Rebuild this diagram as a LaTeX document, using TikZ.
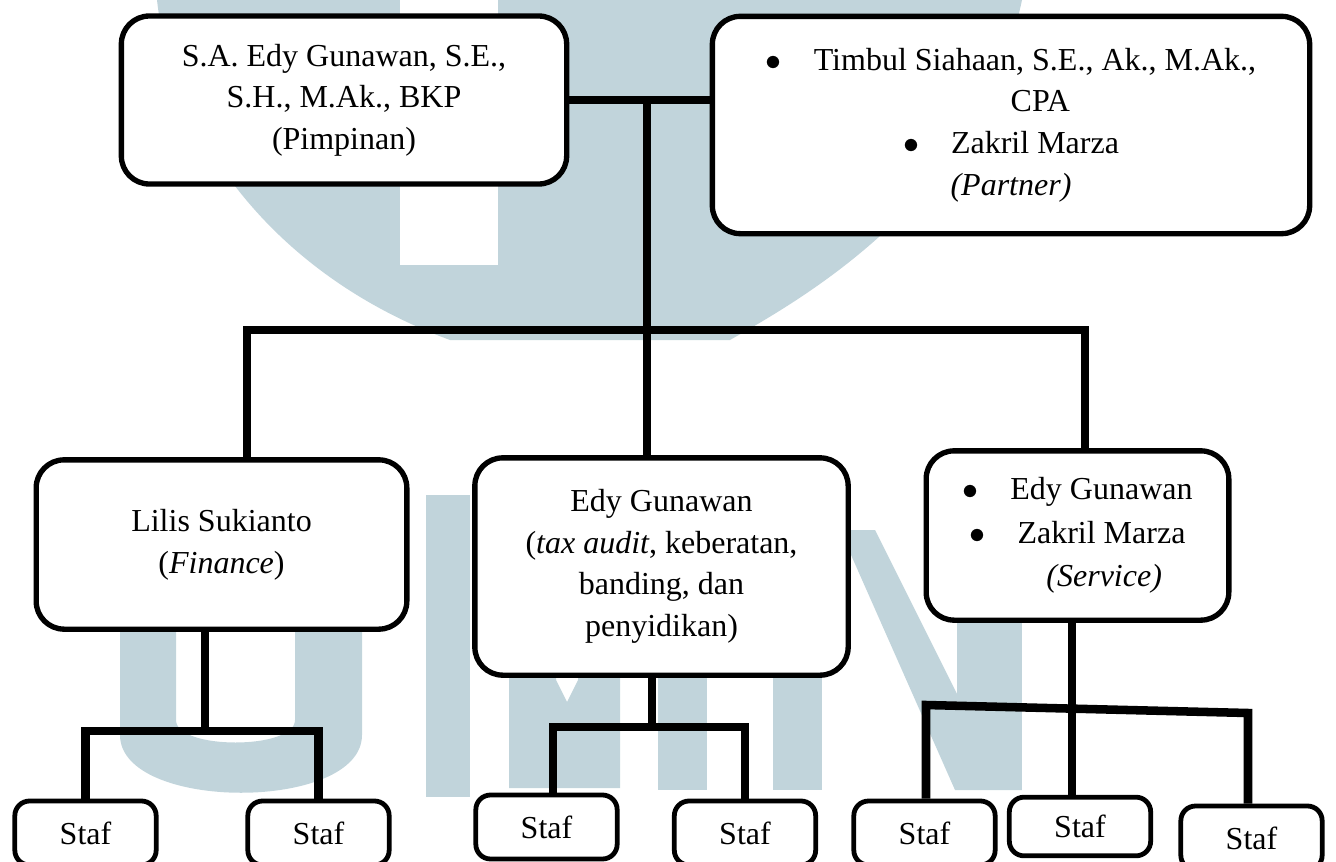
\documentclass[tikz,border=0pt]{standalone}
\usepackage{fontspec}
\setmainfont{Liberation Serif}
\usetikzlibrary{positioning}
\definecolor{wmark}{RGB}{193,212,219}

\begin{document}
\begin{tikzpicture}[x=0.375pt, y=-0.375pt,
    every node/.style={font=\fontsize{12}{15.6}\selectfont},
    unit/.style={draw=black, fill=white, line width=2pt, rounded corners=10.5pt,
                 align=center, inner sep=0pt},
    staf/.style={draw=black, fill=white, line width=1.8pt, rounded corners=5.5pt,
                 inner sep=0pt, minimum width=53pt, minimum height=24pt},
    link/.style={line width=3.2pt}]

\useasboundingbox (0,0) rectangle (1336,861);

% watermark
\fill[wmark] (157,0) .. controls (170,120) and (260,270) .. (450,340) -- (730,340)
    .. controls (800,300) and (980,200) .. (1022,0) -- cycle;
\fill[white] (400,0) rectangle (498,265);
\fill[wmark] (120,600) -- (120,735) .. controls (120,812) and (362,812) .. (362,735)
    -- (362,600) -- (295,600) -- (295,720) .. controls (295,750) and (176,750) .. (176,720)
    -- (176,600) -- cycle;
\fill[wmark] (426,495) rectangle (470,797);
\fill[wmark] (509,600) -- (509,788) -- (620,788) -- (620,600) -- (578,600) -- (578,680)
    -- (567,702) -- (556,680) -- (556,600) -- cycle;
\fill[wmark] (658,600) rectangle (707,790);
\fill[wmark] (773,600) rectangle (822,790);
\fill[wmark] (840,530) -- (875,530) -- (990,760) -- (1022,790) -- (955,790) -- cycle;
\fill[wmark] (957,560) rectangle (1022,790);

\node[unit, minimum width=167pt, minimum height=63pt] (lead) at (344,100)
    {S.A. Edy Gunawan, S.E.,\\ S.H., M.Ak., BKP\\ (Pimpinan)};
\node[unit, minimum width=224pt, minimum height=81.5pt] (partner) at (1011,125)
    {$\bullet$\hspace{1em}Timbul Siahaan, S.E., Ak., M.Ak.,\\ \hspace*{22pt}CPA\\
     $\bullet$\hspace{1em}Zakril Marza\\ \textit{(Partner)}};
\node[unit, minimum width=139pt, minimum height=63.5pt] (finance) at (221.5,544.5)
    {Lilis Sukianto\\ (\textit{Finance})};
\node[unit, minimum width=140pt, minimum height=81.5pt] (tax) at (661.5,566.5)
    {Edy Gunawan\\ (\textit{tax audit}, keberatan,\\ banding, dan\\ penyidikan)};
\node[unit, minimum width=113.5pt, minimum height=63.5pt,
      font=\fontsize{12}{16.3}\selectfont] (service) at (1077.5,535.5)
    {$\bullet$\hspace{1em}Edy Gunawan\\ $\bullet$\hspace{1em}Zakril Marza\\
     \hspace*{20pt}\textit{(Service)}};

\foreach \n/\x/\y in {1/85.5/833, 2/318.5/833, 3/546.5/827, 4/745/833, 5/924.5/833, 7/1251.5/838}
    \node[staf] (s\n) at (\x,\y) {Staf};
\node[staf, minimum height=22pt] (s6) at (1080,826.5) {Staf};

\coordinate (hub) at (647,100);
\coordinate (barL) at (247,330);
\coordinate (barR) at (1085,330);
\draw[link] (lead.east) -- (lead.east -| partner.west);
\draw[link] (hub) -- (hub |- tax.north);
\draw[link] (barL |- finance.north) -- (barL) -- (barR) -- (barR |- service.north);

\coordinate (finBar) at (205,731);
\draw[link] (finance.south -| finBar) -- (finBar);
\draw[link] (s1.north) |- (finBar) -| (s2.north);

\coordinate (taxBar) at (652,727);
\draw[link] (tax.south -| taxBar) -- (taxBar);
\draw[link] ([xshift=2.5pt]s3.north) |- (taxBar) -| (s4.north);

\coordinate (svcL) at (926,705);
\coordinate (svcR) at (1248,713);
\coordinate (svcM) at (1072,709);
\draw[link] (s5.north -| svcL) -- (svcL) -- (svcR) -- (svcR |- s7.north);
\draw[link] (service.south -| svcM) -- (svcM |- s6.north);
\end{tikzpicture}
\end{document}
